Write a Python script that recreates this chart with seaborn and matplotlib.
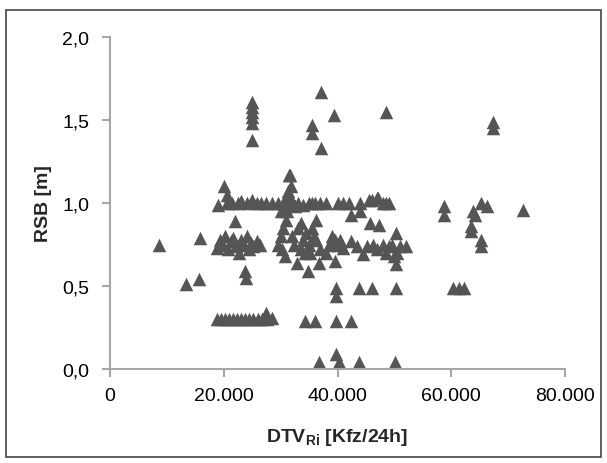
import numpy as np
import matplotlib
matplotlib.use("Agg")
import matplotlib.pyplot as plt
from matplotlib.ticker import FuncFormatter
from matplotlib.patches import Rectangle
import pandas as pd
import seaborn as sns

top_x = [24960, 24960, 24960, 24960, 24960, 24960, 37100, 39300, 48600, 35500, 35500, 37100, 31560]
top_y = [1.61, 1.58, 1.55, 1.52, 1.48, 1.38, 1.67, 1.53, 1.55, 1.47, 1.42, 1.33, 1.17]

row1_x = [19000, 20500, 21500, 22500, 23000, 24000, 25000, 25800, 26500, 27500, 28500,
          29500, 30500, 31000, 31500, 32000, 33000, 34000, 35000, 35500, 36000, 37000,
          38000, 40000, 41000, 42000, 44000, 45500, 47000, 48000, 49000]
row1_y = [0.99, 1.00, 1.00, 1.00, 1.01, 1.00, 1.02, 1.00, 1.00, 1.00, 1.00,
          1.00, 1.00, 1.01, 1.00, 1.00, 1.00, 0.99, 1.00, 1.00, 1.00, 1.00,
          1.00, 1.00, 1.00, 1.00, 1.00, 1.02, 1.03, 1.00, 1.00]

left_x = [18800, 19300, 19800, 20300, 20800, 21200, 21700, 22200, 22600, 23000, 23500,
          24000, 24400, 24800, 25200, 25800, 26300, 20000, 20500, 21900, 23700, 23900,
          15900, 8700, 13300, 15600]
left_y = [0.73, 0.78, 0.75, 0.80, 0.72, 0.77, 0.79, 0.74, 0.70, 0.78, 0.75,
          0.80, 0.72, 0.76, 0.74, 0.77, 0.75, 1.10, 1.05, 0.89, 0.59, 0.55,
          0.79, 0.75, 0.51, 0.54]

mid_x = [29500, 30000, 30500, 30800, 31000, 31200, 31500, 31600, 31800, 32000, 32300,
         32900, 33000, 33500, 34000, 34500, 34900, 35000, 35200, 35500, 35800, 36200,
         36700, 37000, 30000, 30600, 31300, 32500, 33500, 34200, 30200, 36300]
mid_y = [0.75, 0.80, 0.85, 0.68, 0.90, 0.95, 1.05, 1.17, 1.10, 0.80, 0.75,
         0.64, 0.85, 0.72, 0.78, 0.82, 0.59, 0.75, 0.70, 0.85, 0.80, 0.78,
         0.64, 0.72, 0.95, 1.00, 1.07, 0.98, 0.88, 0.70, 0.72, 0.90]

right_x = [38500, 39000, 39500, 40000, 40500, 41000, 42300, 43500, 44400, 45200, 45800,
           46200, 47000, 47300, 48000, 48500, 49000, 49500, 50300, 50300, 50500, 51000,
           52000, 42300, 38000, 39500, 44000, 46000, 47100, 48600, 50000]
right_y = [0.75, 0.80, 0.78, 0.75, 0.78, 0.73, 0.77, 0.74, 0.69, 0.74, 0.88,
           0.75, 0.72, 0.87, 0.75, 0.70, 0.74, 0.75, 0.82, 0.63, 0.70, 0.74,
           0.74, 0.93, 0.70, 0.65, 0.95, 1.02, 1.03, 1.00, 0.68]

far_x = [58800, 58800, 60300, 61300, 62300, 63400, 63400, 63800, 64200, 65200, 65200,
         65200, 66200, 67400, 67400, 72700]
far_y = [0.98, 0.93, 0.49, 0.49, 0.49, 0.86, 0.83, 0.95, 0.93, 1.00, 0.78,
         0.74, 0.98, 1.49, 1.45, 0.96]

half_x = [39800, 39800, 43800, 46100, 50300]
half_y = [0.49, 0.44, 0.49, 0.49, 0.49]

low_x = [18800, 19500, 20300, 21000, 21700, 22400, 23100, 23800, 24500, 25200, 26000,
         26800, 27600, 27500, 28500, 34300, 36100, 39800, 42400]
low_y = [0.30, 0.30, 0.30, 0.30, 0.30, 0.30, 0.30, 0.30, 0.30, 0.30, 0.30,
         0.30, 0.30, 0.34, 0.31, 0.29, 0.29, 0.29, 0.29]

zero_x = [36700, 39800, 40200, 43800, 50100]
zero_y = [0.04, 0.09, 0.04, 0.04, 0.04]

x_ticks = [0, 20000, 40000, 60000, 80000]
y_ticks = [0.0, 0.5, 1.0, 1.5, 2.0]

df = pd.DataFrame({
    "dtv": top_x + row1_x + left_x + mid_x + right_x + far_x + half_x + low_x + zero_x,
    "rsb": top_y + row1_y + left_y + mid_y + right_y + far_y + half_y + low_y + zero_y,
})

sns.set_style("white")
plt.rcParams["font.family"] = ["Liberation Sans", "DejaVu Sans"]
plt.rcParams["mathtext.fontset"] = "custom"
plt.rcParams["mathtext.bf"] = "Liberation Sans:bold"
plt.rcParams["mathtext.rm"] = "Liberation Sans"

fig = plt.figure(figsize=(6.07, 4.64), dpi=100)
ax = fig.add_axes([110 / 607, 94 / 464, 455 / 607, 332 / 464])

sns.scatterplot(data=df, x="dtv", y="rsb", marker="^", s=95, color="#555555",
                linewidth=0, ax=ax, legend=False)

ax.set_xlim(0, 80000)
ax.set_ylim(0, 2.0)
ax.set_xticks(x_ticks)
ax.set_yticks(y_ticks)
ax.xaxis.set_major_formatter(FuncFormatter(lambda v, p: f"{int(v):,}".replace(",", ".")))
ax.yaxis.set_major_formatter(FuncFormatter(lambda v, p: f"{v:.1f}".replace(".", ",")))

for side in ["top", "right"]:
    ax.spines[side].set_visible(False)
for side in ["left", "bottom"]:
    ax.spines[side].set_color("#a6a6a6")
    ax.spines[side].set_linewidth(1.5)
ax.tick_params(axis="both", colors="#a6a6a6", labelcolor="black", length=6, width=1.5,
               direction="out", labelsize=14, left=True, bottom=True)
ax.tick_params(axis="y", pad=9)
ax.tick_params(axis="x", pad=7)

ax.set_xlabel(r"DTV$_{\mathbf{Ri}}$ [Kfz/24h]", fontsize=14, fontweight="bold", labelpad=16)
ax.set_ylabel("RSB [m]", fontsize=14, fontweight="bold", labelpad=7)

fig.patches.append(Rectangle((6 / 607, 6 / 464), 595 / 607, 447 / 464,
                             transform=fig.transFigure, fill=False,
                             edgecolor="#444444", linewidth=1.2))

fig.savefig("out.png", dpi=100)
